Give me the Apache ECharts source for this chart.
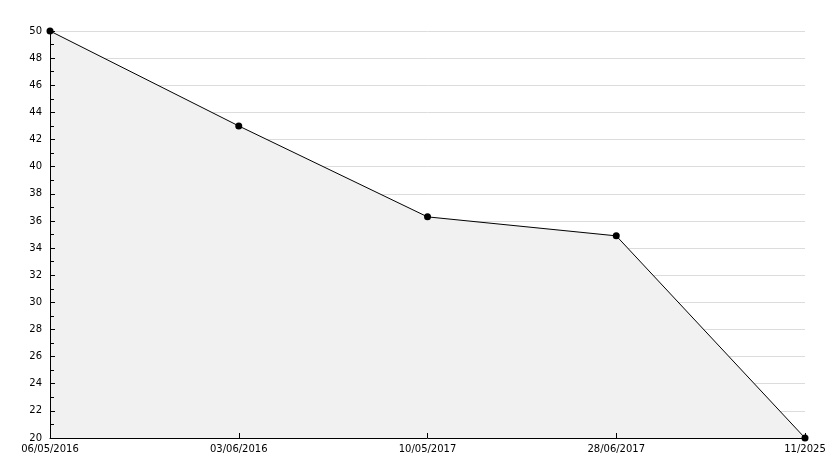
<!DOCTYPE html>
<html>
<head>
<meta charset="utf-8">
<script src="https://cdn.jsdelivr.net/npm/echarts@6/dist/echarts.min.js"></script>
<style>html,body{margin:0;padding:0;background:#fff}#c{width:834px;height:468px}</style>
</head>
<body>
<div id="c"></div>
<script>
var categories = ['06/05/2016', '03/06/2016', '10/05/2017', '28/06/2017', '11/2025'];
var values = [50, 43, 36.3, 34.9, 20];
var yMin = 20, yMax = 50, yStep = 2;

var chart = echarts.init(document.getElementById('c'), null, {renderer: 'canvas'});
chart.setOption({
  animation: false,
  backgroundColor: '#ffffff',
  grid: {left: 50, right: 29, top: 31, bottom: 30, containLabel: false},
  xAxis: {
    type: 'category',
    data: categories,
    boundaryGap: false,
    z: 10,
    axisLine: {lineStyle: {color: '#000', width: 1}},
    axisTick: {inside: true, length: 5, lineStyle: {color: '#000'}},
    axisLabel: {color: '#000', fontFamily: 'DejaVu Sans', fontSize: 10, margin: 6, showMinLabel: true, showMaxLabel: true, interval: 0},
    splitLine: {show: false}
  },
  yAxis: [{
    type: 'value',
    min: yMin, max: yMax, interval: yStep,
    z: 0,
    axisLine: {show: false},
    axisTick: {show: false},
    axisLabel: {show: false},
    splitLine: {show: true, lineStyle: {color: '#dcdcdc', width: 1}}
  }, {
    type: 'value',
    position: 'left',
    offset: 0,
    min: yMin, max: yMax, interval: yStep,
    z: 10,
    axisLine: {show: true, lineStyle: {color: '#000', width: 1}},
    axisTick: {show: true, inside: true, length: 5, lineStyle: {color: '#000'}},
    minorTick: {show: true, splitNumber: 2, length: 4, lineStyle: {color: '#000'}},
    axisLabel: {color: '#000', fontFamily: 'DejaVu Sans', fontSize: 10, margin: 8},
    splitLine: {show: false}
  }],
  series: [{
    type: 'line',
    yAxisIndex: 0,
    data: values,
    symbol: 'circle',
    symbolSize: 7,
    itemStyle: {color: '#000'},
    lineStyle: {color: '#000', width: 1},
    areaStyle: {color: '#f1f1f1', opacity: 1},
    z: 3
  }]
});
</script>
</body>
</html>
